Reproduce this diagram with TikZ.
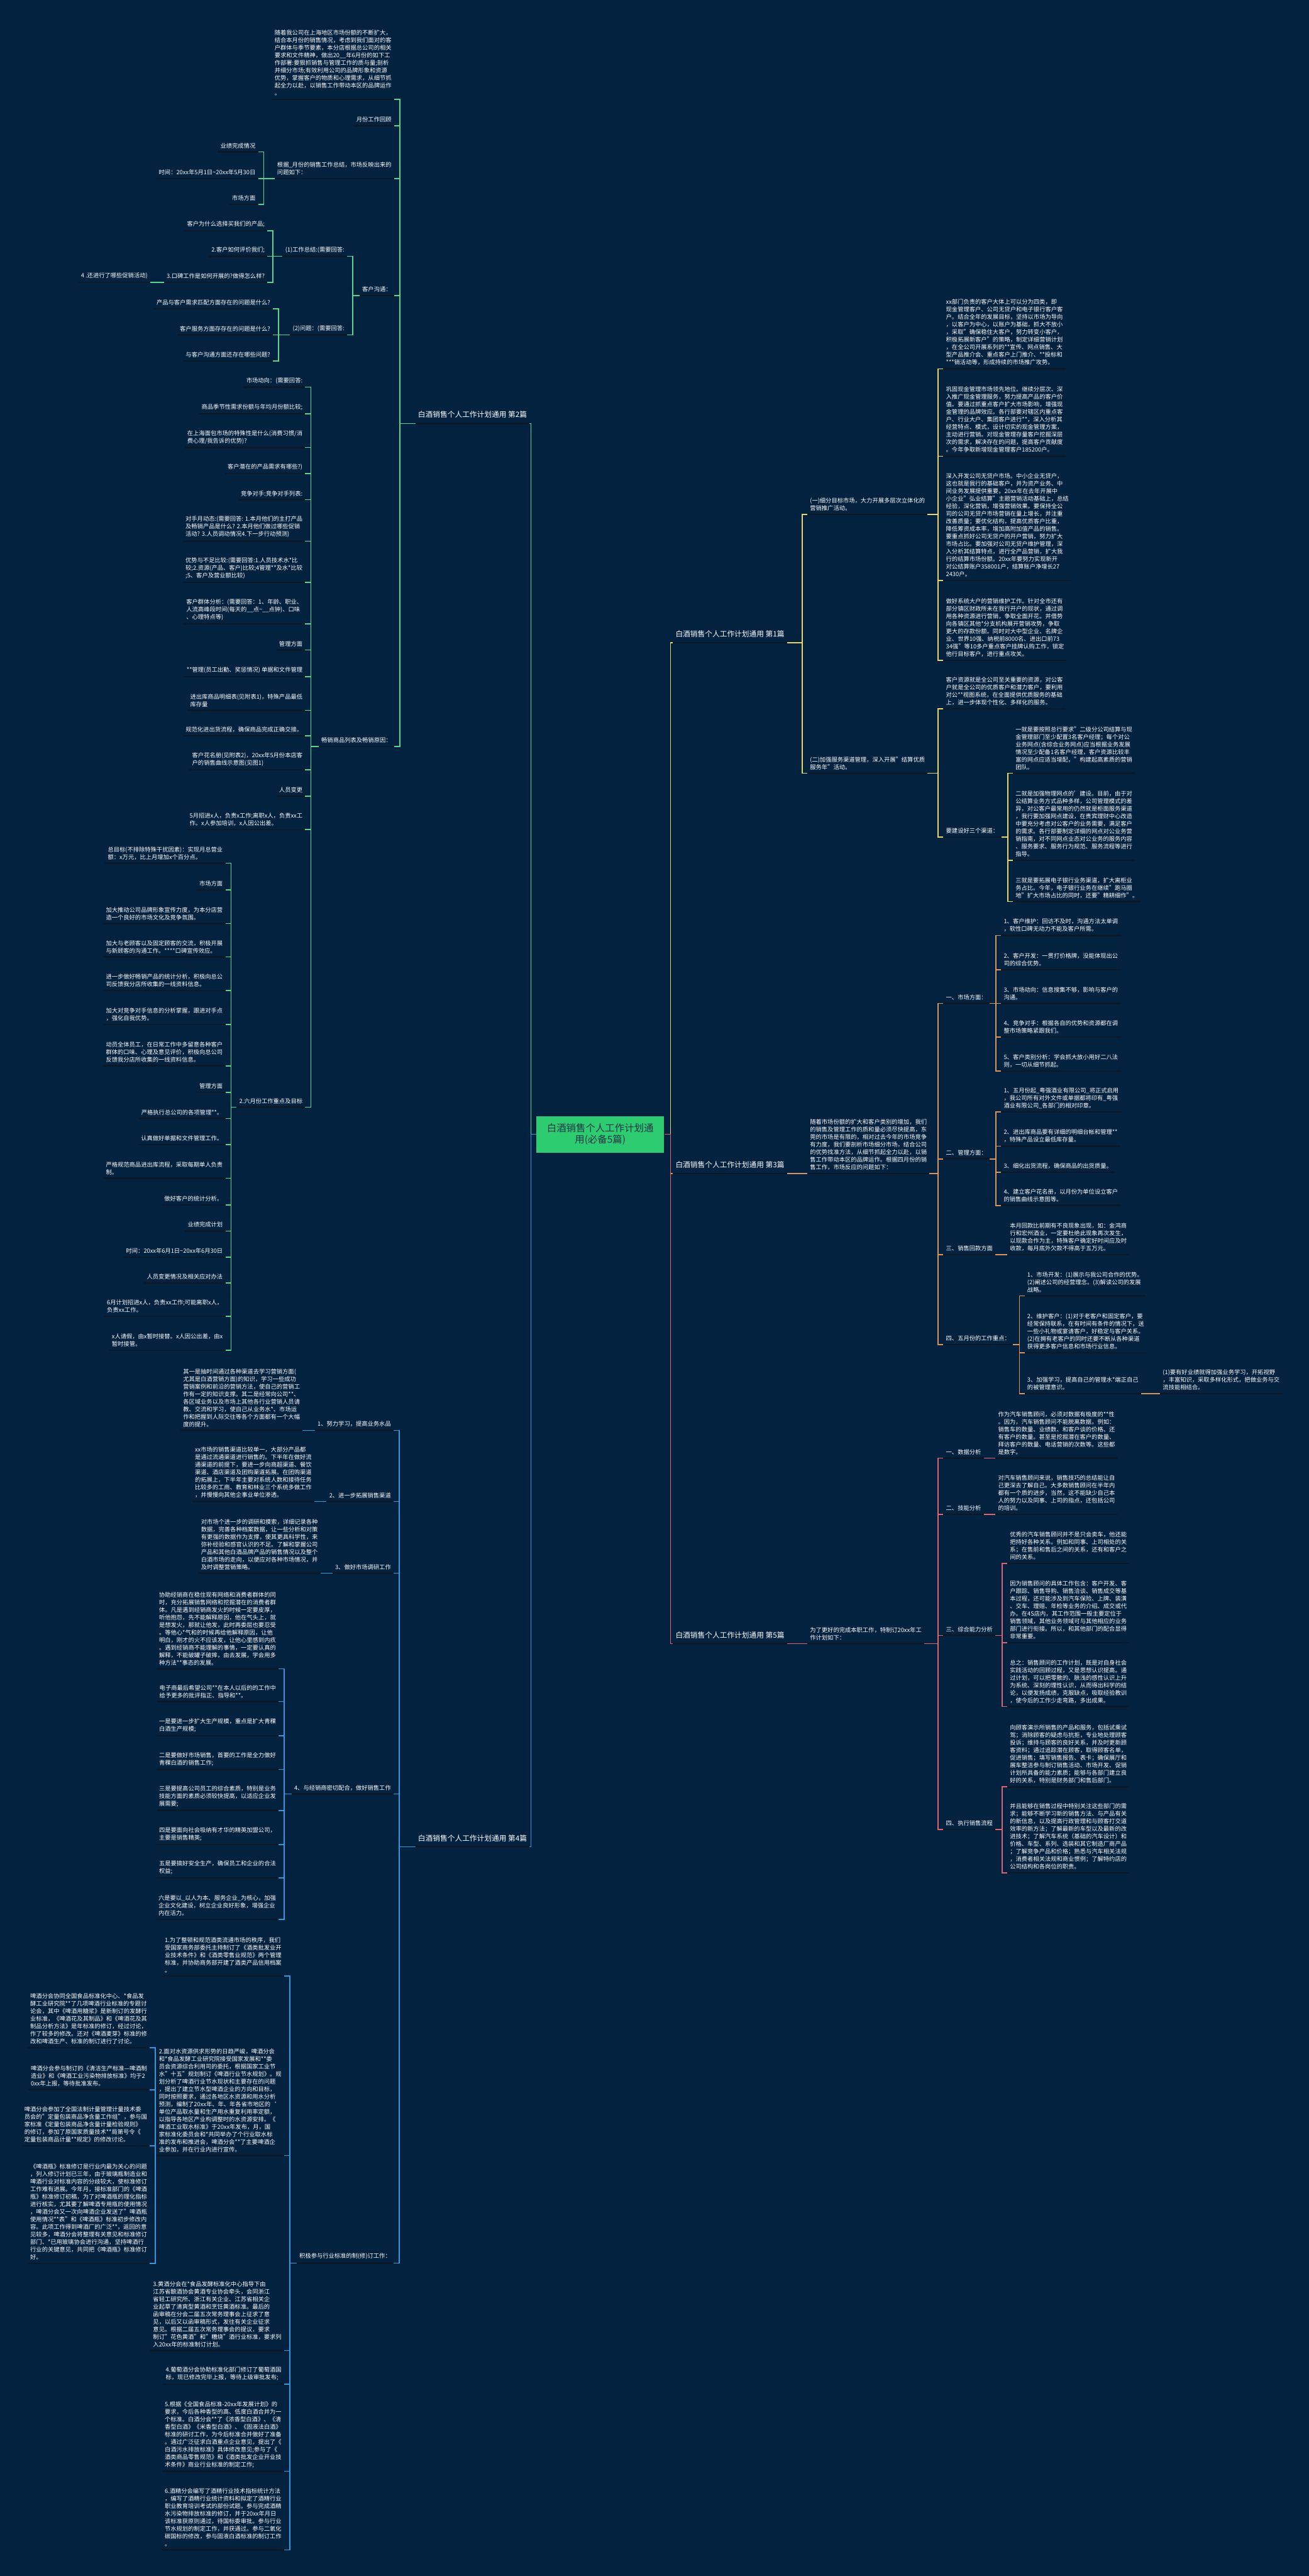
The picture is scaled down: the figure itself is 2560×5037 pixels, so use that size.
\documentclass[tikz,border=0pt]{standalone}
\usepackage{fontspec}
\setmainfont{Noto Sans CJK SC}
\definecolor{bgnavy}{HTML}{03223F}
\definecolor{lineblack}{HTML}{0B1828}
\definecolor{rootgreen}{HTML}{2ECC71}
\definecolor{roottext}{HTML}{1D3447}
\definecolor{branchgreen}{HTML}{58D68D}
\definecolor{branchblue}{HTML}{3498DB}
\definecolor{branchyellow}{HTML}{E9D66B}
\definecolor{branchorange}{HTML}{D9955B}
\definecolor{branchred}{HTML}{E2646E}
\tikzset{
  note/.style={text=white, font=\fontsize{6.5}{8.4}\selectfont, align=left, inner xsep=0.1cm, inner ysep=0.13cm,
    append after command={(\tikzlastnode.south west) edge[draw=lineblack, line width=0.06cm] (\tikzlastnode.south east)}},
  lnote/.style={note, anchor=south east},
  rnote/.style={note, anchor=south west},
  topic/.style={note, font=\fontsize{8.2}{10}\selectfont, inner ysep=0.2cm},
  root/.style={fill=rootgreen, text=roottext, font=\fontsize{10.8}{12.5}\selectfont, align=center, minimum width=5cm, minimum height=1.42cm, inner sep=0pt},
  gline/.style={draw=branchgreen, line width=0.04cm},
  bline/.style={draw=branchblue, line width=0.04cm},
  yline/.style={draw=branchyellow, line width=0.04cm},
  oline/.style={draw=branchorange, line width=0.04cm},
  rline/.style={draw=branchred, line width=0.04cm}
}
\begin{document}
\begin{tikzpicture}[x=0.02cm, y=-0.02cm]
  \fill[bgnavy] (0,0) rectangle (2560,5037);

  % centre and the five parts
  \node[root] (root) at (1174,2218) {白酒销售个人工作计划通\\用(必备5篇)};
  \node[topic, anchor=south east] (p2) at (1036,828) {白酒销售个人工作计划通用 第2篇};
  \node[topic, anchor=south east] (p4) at (1036,3611) {白酒销售个人工作计划通用 第4篇};
  \node[topic, anchor=south west] (p1) at (1316,1257) {白酒销售个人工作计划通用 第1篇};
  \node[topic, anchor=south west] (p3) at (1316,2295) {白酒销售个人工作计划通用 第3篇};
  \node[topic, anchor=south west] (p5) at (1316,3214) {白酒销售个人工作计划通用 第5篇};

  % part 2
  \node[lnote] (a1) at (771,194) {随着我公司在上海地区市场份额的不断扩大，\\结合本月份的销售情况，考虑到我们面对的客\\户群体与季节要素，本分店根据总公司的相关\\要求和文件精神，做出20\_\_年6月份的如下工\\作部署:要狠抓销售与管理工作的质与量;剖析\\并细分市场;有效利用公司的品牌形象和资源\\优势，掌握客户的物质和心理需求，从细节抓\\起全力以赴，以销售工作带动本区的品牌运作\\。};
  \node[lnote] (a2) at (771,246) {月份工作回顾};
  \node[lnote] (a3) at (771,349) {根据\_月份的销售工作总结，市场反映出来的\\问题如下：};
  \node[lnote] (a31) at (505,297) {业绩完成情况};
  \node[lnote] (a32) at (505,349) {时间：20xx年5月1日\textasciitilde 20xx年5月30日};
  \node[lnote] (a33) at (505,400) {市场方面};
  \node[lnote] (a4) at (771,578) {客户沟通：};
  \node[lnote] (a41) at (679,501) {(1)工作总结:(需要回答:};
  \node[lnote] (a411) at (523,451) {客户为什么选择买我们的产品;};
  \node[lnote] (a412) at (523,501) {2.客户如何评价我们;};
  \node[lnote] (a413) at (523,552) {3.口碑工作是如何开展的?做得怎么样?};
  \node[lnote] (a414) at (294,552) {4 .还进行了哪些促销活动)};
  \node[lnote] (a42) at (679,655) {(2)问题：(需要回答:};
  \node[lnote] (a421) at (534,604) {产品与客户需求匹配方面存在的问题是什么?};
  \node[lnote] (a422) at (534,655) {客户服务方面存存在的问题是什么?};
  \node[lnote] (a423) at (534,706) {与客户沟通方面还存在哪些问题?};
  \node[lnote] (a5) at (771,1460) {畅销商品列表及畅销原因：};
  \node[lnote] (s1) at (597,757) {市场动向：(需要回答:};
  \node[lnote] (s2) at (597,809) {商品季节性需求份额与年均月份额比较;};
  \node[lnote] (s3) at (597,875) {在上海面包市场的特殊性是什么(消费习惯/消\\费心理/我告诉的优势)?};
  \node[lnote] (s4) at (597,926) {客户潜在的产品需求有哪些?)};
  \node[lnote] (s5) at (597,977) {竞争对手:竞争对手列表:};
  \node[lnote] (s6) at (597,1058) {对手月动态:(需要回答: 1.本月他们的主打产品\\及畅销产品是什么? 2.本月他们做过哪些促销\\活动? 3.人员调动情况4.下一步行动预测)};
  \node[lnote] (s7) at (597,1139) {优势与不足比较:(需要回答:1.人员技术水*比\\较;2.资源(产品、客户)比较;4管理**及水*比较\\;5、客户及营业额比较)};
  \node[lnote] (s8) at (597,1220) {客户群体分析：(需要回答：1、年龄、职业、\\人流高峰段时间(每天的\_\_点\textasciitilde\_\_点钟)、口味\\、心理特点等)};
  \node[lnote] (s9) at (597,1271) {管理方面};
  \node[lnote] (s10) at (597,1323) {**管理(员工出勤、奖惩情况) 单据和文件管理};
  \node[lnote] (s11) at (597,1389) {进出库商品明细表(见附表1)，特殊产品最低\\库存量};
  \node[lnote] (s12) at (597,1439) {规范化进出货流程，确保商品完成正确交接。};
  \node[lnote] (s13) at (597,1505) {客户花名册(见附表2)，20xx年5月份本店客\\户的销售曲线示意图(见图1)};
  \node[lnote] (s14) at (597,1557) {人员变更};
  \node[lnote] (s15) at (597,1622) {5月招进x人，负责x工作;离职x人，负责xx工\\作。x人参加培训，x人因公出差。};
  \node[lnote] (s16) at (597,2165) {2.六月份工作重点及目标};
  \node[lnote] (j1) at (441,1688) {总目标(不排除特殊干扰因素)：实现月总营业\\额：x万元，比上月增加x个百分点。};
  \node[lnote] (j2) at (441,1740) {市场方面};
  \node[lnote] (j3) at (441,1806) {加大推动公司品牌形象宣传力度，为本分店营\\造一个良好的市场文化及竞争氛围。};
  \node[lnote] (j4) at (441,1871) {加大与老顾客以及固定顾客的交流，积极开展\\与新顾客的沟通工作。****口碑宣传效应。};
  \node[lnote] (j5) at (441,1937) {进一步做好畅销产品的统计分析，积极向总公\\司反馈我分店所收集的一线资料信息。};
  \node[lnote] (j6) at (441,2003) {加大对竞争对手信息的分析掌握，跟进对手点\\，强化自我优势。};
  \node[lnote] (j7) at (441,2084) {动员全体员工，在日常工作中多留意各种客户\\群体的口味、心理及意见评价，积极向总公司\\反馈我分店所收集的一线资料信息。};
  \node[lnote] (j8) at (441,2136) {管理方面};
  \node[lnote] (j9) at (441,2187) {严格执行总公司的各项管理**。};
  \node[lnote] (j10) at (441,2238) {认真做好单据和文件管理工作。};
  \node[lnote] (j11) at (441,2304) {严格规范商品进出库流程，采取每期单人负责\\制。};
  \node[lnote] (j12) at (441,2356) {做好客户的统计分析。};
  \node[lnote] (j13) at (441,2407) {业绩完成计划};
  \node[lnote] (j14) at (441,2458) {时间：20xx年6月1日\textasciitilde 20xx年6月30日};
  \node[lnote] (j15) at (441,2509) {人员变更情况及相关应对办法};
  \node[lnote] (j16) at (441,2574) {6月计划招进x人，负责xx工作;可能离职x人，\\负责xx工作。};
  \node[lnote] (j17) at (441,2640) {x人请假，由x暂时接替。x人因公出差，由x\\暂时接管。};

  % part 4
  \node[lnote] (b1) at (770,2797) {1、努力学习，提高业务水品};
  \node[lnote] (b1x) at (592,2797) {其一是抽时间通过各种渠道去学习营销方面(\\尤其是白酒营销方面)的知识，学习一些成功\\营销案例和前沿的营销方法，使自己的营销工\\作有一定的知识支撑。其二是经常向公司**、\\各区域业务以及市场上其他各行业营销人员请\\教、交流和学习，使自己从业务水*、市场运\\作和把握到人际交往等各个方面都有一个大幅\\度的提升。};
  \node[lnote] (b2) at (770,2936) {2、进一步拓展销售渠道};
  \node[lnote] (b2x) at (615,2936) {xx市场的销售渠道比较单一，大部分产品都\\是通过流通渠道进行销售的。下半年在做好流\\通渠道的前提下，要进一步向商超渠道、餐饮\\渠道、酒店渠道及团购渠道拓展。在团购渠道\\的拓展上，下半年主要对系统人数和接待任务\\比较多的工商、教育和林业三个系统多做工作\\，并慢慢向其他企事业单位渗透。};
  \node[lnote] (b3) at (770,3076) {3、做好市场调研工作};
  \node[lnote] (b3x) at (627,3076) {对市场个进一步的调研和摸索，详细记录各种\\数据，完善各种档案数据，让一些分析和对策\\有更强的数据作为支撑，使其更具科学性，来\\弥补经验和感官认识的不足。了解和掌握公司\\产品和其他白酒品牌产品的销售情况以及整个\\白酒市场的走向，以便应对各种市场情况，并\\及时调整营销策略。};
  \node[lnote] (b4) at (770,3508) {4、与经销商密切配合，做好销售工作};
  \node[lnote] (h1) at (545,3263) {协助经销商在稳住现有网络和消费者群体的同\\时，充分拓展销售网络和挖掘潜在的消费者群\\体。凡是遇到经销商发火的时候一定要皮厚，\\听他抱怨，先不能解释原因，他在气头上，就\\是想发火，那就让他发，此时再委屈也要忍受\\。等他心*气和的时候再给他解释原因，让他\\明白，刚才的火不应该发，让他心里感到内疚\\。遇到经销商不能理解的事情，一定要认真的\\解释，不能破罐子破摔，由去发展，学会用多\\种方法**事态的发展。};
  \node[lnote] (h2) at (545,3327) {电子商最后希望公司**在本人以后的的工作中\\给予更多的批评指正、指导和**。};
  \node[lnote] (h3) at (545,3394) {一是要进一步扩大生产规模，重点是扩大青稞\\白酒生产规模;};
  \node[lnote] (h4) at (545,3460) {二是要做好市场销售，首要的工作是全力做好\\青稞白酒的销售工作;};
  \node[lnote] (h5) at (545,3540) {三是要提高公司员工的综合素质，特别是业务\\技能方面的素质必须较快提高，以适应企业发\\展需要;};
  \node[lnote] (h6) at (545,3607) {四是要面向社会吸纳有才华的精英加盟公司，\\主要是销售精英;};
  \node[lnote] (h7) at (545,3672) {五是要搞好安全生产，确保员工和企业的合法\\权益;};
  \node[lnote] (h8) at (545,3753) {六是要以\_以人为本、服务企业\_为核心，加强\\企业文化建设，树立企业良好形象，增强企业\\内在活力。};
  \node[lnote] (b5) at (770,4425) {积极参与行业标准的制(修)订工作：};
  \node[lnote] (t1) at (556,3864) {1.为了整顿和规范酒类流通市场的秩序，我们\\受国家商务部委托主持制订了《酒类批发业开\\业技术条件》和《酒类零售业规范》两个管理\\标准，并协助商务部开建了酒类产品信用档案\\。};
  \node[lnote] (t2) at (556,4215) {2.面对水资源供求形势的日趋严峻，啤酒分会\\和*食品发酵工业研究院接受国家发展和**委\\员会资源综合利用司的委托，根据国家工业节\\水"十五"规划制订《啤酒行业节水规划》。规\\划分析了啤酒行业节水现状和主要存在的问题\\，提出了建立节水型啤酒企业的方向和目标，\\同时按照要求，通过各地区水资源和用水分析\\预测，编制了20xx年、年、年各省市地区的`\\单位产品取水量和生产用水重复利用率定额，\\以指导各地区产业构调整时的水资源安排。《\\啤酒工业取水标准》于20xx年发布，月，国\\家标准化委员会和*共同举办了个行业取水标\\准的发布和推进会，啤酒分会**了主要啤酒企\\业参加，并在行业内进行宣传。};
  \node[lnote] (w1) at (293,4004) {啤酒分会协同全国食品标准化中心、*食品发\\酵工业研究院**了几项啤酒行业标准的专题讨\\论会，其中《啤酒用糖浆》是新制订的发酵行\\业标准，《啤酒花及其制品》和《啤酒花及其\\制品分析方法》是年标准的修订，经过讨论，\\作了较多的修改。还对《啤酒麦芽》标准的修\\改和啤酒生产、标准的制订进行了讨论。};
  \node[lnote] (w2) at (293,4086) {啤酒分会参与制订的《清洁生产标准—啤酒制\\造业》和《啤酒工业污染物排放标准》均于2\\0xx年上报，等待批准发布。};
  \node[lnote] (w3) at (293,4196) {啤酒分会参加了全国法制计量管理计量技术委\\员会的"定量包装商品净含量工作组"，参与国\\家标准《定量包装商品净含量计量检验规则》\\的修订，参加了原国家质量技术**局第号令《\\定量包装商品计量**规定》的修改讨论。};
  \node[lnote] (w4) at (293,4426) {《啤酒瓶》标准修订是行业内最为关心的问题\\，列入修订计划已三年，由于玻璃瓶制造业和\\啤酒行业对标准内容的分歧较大，使标准修订\\工作难有进展。今年月，接标准部门的《啤酒\\瓶》标准修订初稿，为了对啤酒瓶的理化指标\\进行核实，尤其要了解啤酒专用瓶的使用情况\\，啤酒分会又一次向啤酒企业发送了"啤酒瓶\\使用情况**表"和《啤酒瓶》标准初步修改内\\容。此项工作得到啤酒厂的广泛**，返回的意\\见较多，啤酒分会将整理有关意见和标准修订\\部门、*已用玻璃协会进行沟通，坚持啤酒行\\行业的关键意见，共同把《啤酒瓶》标准修订\\好。};
  \node[lnote] (t3) at (556,4596) {3.黄酒分会在*食品发酵标准化中心指导下由\\江苏省酿酒协会黄酒专业协会牵头，会同浙江\\省轻工研究所、浙江有关企业、江苏省相关企\\业起草了清爽型黄酒和烹饪黄酒标准。最后的\\函审稿在分会二届五次常务理事会上征求了意\\见，以后又以函审稿形式，发往有关企业征求\\意见。根据二届五次常务理事会的提议，要求\\制订"花色黄酒"和"糟烧"酒行业标准，要求列\\入20xx年的标准制订计划。};
  \node[lnote] (t4) at (556,4662) {4.葡萄酒分会协助标准化部门修订了葡萄酒国\\标，现已修改完毕上报，等待上级审批发布;};
  \node[lnote] (t5) at (556,4832) {5.根据《全国食品标准-20xx年发展计划》的\\要求，今后各种香型的高、低度白酒合并为一\\个标准。白酒分会**了《浓香型白酒》、《清\\香型白酒》《米香型白酒》、《固液法白酒》\\标准的研讨工作，为今后标准合并做好了准备\\。通过广泛征求白酒重点企业意见，提出了《\\白酒污水排放标准》具体修改意见;参与了《\\酒类商品零售规范》和《酒类批发企业开业技\\术条件》商业行业标准的制定工作;};
  \node[lnote] (t6) at (556,4986) {6.酒精分会编写了酒精行业技术指标统计方法\\，编写了酒精行业统计资料和拟定了酒精行业\\职业教育培训考试的部份试题。参与完成酒精\\水污染物排放标准的修订，并于20xx年月日\\该标准获原则通过，待国标委审批。参与行业\\节水规划的制定工作，并获通过。参与二氧化\\碳国标的修改，参与固液白酒标准的制订工作\\。};

  % part 1
  \node[rnote] (c1) at (1579,1006) {(一)细分目标市场，大力开展多层次立体化的\\营销推广活动。};
  \node[rnote] (x1) at (1845,721) {xx部门负责的客户大体上可以分为四类，即\\现金管理客户、公司无贷户和电子银行客户客\\户。结合全年的发展目标，坚持以市场为导向\\，以客户为中心，以账户为基础，抓大不放小\\，采取"确保稳住大客户，努力转变小客户，\\积极拓展新客户"的策略，制定详细营销计划\\，在全公司开展系列的**宣传、网点销售、大\\型产品推介会、重点客户上门推介、**投标和\\***销活动等，形成持续的市场推广攻势。};
  \node[rnote] (x2) at (1845,892) {巩固现金管理市场领先地位。继续分层次、深\\入推广现金管理服务，努力提高产品的客户价\\值。要通过抓重点客户扩大市场影响，增强现\\金管理的品牌效应。各行部要对辖区内重点客\\户、行业大户、集团客户进行**，深入分析其\\经营特点、模式，设计切实的现金管理方案，\\主动进行营销。对现金管理存量客户挖掘深层\\次的需求，解决存在的问题，提高客户贡献度\\。今年争取新增现金管理客户185200户。};
  \node[rnote] (x3) at (1845,1135) {深入开发公司无贷户市场。中小企业无贷户，\\这也就是我行的基础客户，并为资产业务、中\\间业务发展提供重要。20xx年在去年开展中\\小企业"弘业结算"主题营销活动基础上，总结\\经验，深化营销，增强营销效果。要保持全公\\司的公司无贷户市场营销在量上增长，并注重\\改善质量；要优化结构，提高优质客户比重，\\降低筹资成本率，增加高附加值产品的销售。\\要重点抓好公司无贷户的开户营销，努力扩大\\市场占比。要加强对公司无贷户维护管理，深\\入分析其结算特点，进行全产品营销，扩大我\\行的结算市场份额。20xx年要努力实现新开\\对公结算账户358001户，结算账户净增长27\\2430户。};
  \node[rnote] (x4) at (1845,1291) {做好系统大户的营销维护工作。针对全市还有\\部分镇区财政所未在我行开户的现状，通过调\\用各种资源进行营销，争取全面开花。并借势\\向各镇区其他*分支机构展开营销攻势，争取\\更大的存款份额。同时对大中型企业、名牌企\\业、世界10强、纳税前8000名、进出口前73\\34强"等10多户重点客户挂牌认购工作，锁定\\他行目标客户，进行重点攻关。};
  \node[rnote] (c2) at (1579,1512) {(二)加强服务渠道管理，深入开展"结算优质\\服务年"活动。};
  \node[rnote] (c21) at (1845,1386) {客户资源就是全公司至关重要的资源，对公客\\户就是全公司的优质客户和潜力客户，要利用\\对公**视图系统，在全面提供优质服务的基础\\上，进一步体现个性化、多样化的服务。};
  \node[rnote] (c22) at (1845,1637) {要建设好三个渠道：};
  \node[rnote] (q1) at (1981,1512) {一就是要按照总行要求"二级分公司结算与现\\金管理部门至少配置3名客户经理；每个对公\\业务网点(含综合业务网点)应当根据业务发展\\情况至少配备1名客户经理，客户资源比较丰\\富的网点应适当增配，"构建起高素质的营销\\团队。};
  \node[rnote] (q2) at (1981,1682) {二就是加强物理网点的'建设。目前，由于对\\公结算业务方式品种多样，公司管理模式的差\\异，对公客户最常用的仍然就是柜面服务渠道\\，我行要加强网点建设，在贵宾理财中心改造\\中要充分考虑对公客户的业务需要，满足客户\\的需求。各行部要制定详细的网点对公业务营\\销指南，对不同网点业态对公业务的服务内容\\、服务要求、服务行为规范、服务流程等进行\\指导。};
  \node[rnote] (q3) at (1981,1763) {三就是要拓展电子银行业务渠道，扩大离柜业\\务占比。今年，电子银行业务在继续"跑马圈\\地"扩大市场占比的同时，还要"精耕细作"。};

  % part 3
  \node[rnote] (d0) at (1579,2295) {随着市场份额的扩大和客户类别的增加，我们\\的销售及管理工作的质和量必须尽快提高，东\\莞的市场是有限的，相对过去今年的市场竞争\\有力度，我们要剖析市场细分市场，结合公司\\的优势找准方法，从细节抓起全力以赴，以销\\售工作带动本区的品牌运作。根据四月份的销\\售工作，市场反应的问题如下：};
  \node[rnote] (d1) at (1845,1962) {一、市场方面：};
  \node[rnote] (u1) at (1958,1829) {1、客户维护：回访不及时，沟通方法太单调\\，软性口碑无动力不能及客户所需。};
  \node[rnote] (u2) at (1958,1896) {2、客户开发：一贯打价格牌，没能体现出公\\司的综合优势。};
  \node[rnote] (u3) at (1958,1962) {3、市场动向：信息搜集不够，影响与客户的\\沟通。};
  \node[rnote] (u4) at (1958,2028) {4、竞争对手：根据各自的优势和资源都在调\\整市场策略紧跟我们。};
  \node[rnote] (u5) at (1958,2094) {5、客户类别分析：学会抓大放小用好二八法\\则，一切从细节抓起。};
  \node[rnote] (d2) at (1845,2266) {二、管理方面：};
  \node[rnote] (v1) at (1958,2174) {1、五月份起\_粤强酒业有限公司\_将正式启用\\，我公司所有对外文件或单据都将印有\_粤强\\酒业有限公司\_各部门的相对印章。};
  \node[rnote] (v2) at (1958,2241) {2、进出库商品要有详细的明细台帐和管理**\\，特殊产品设立最低库存量。};
  \node[rnote] (v3) at (1958,2292) {3、细化出货流程，确保商品的出货质量。};
  \node[rnote] (v4) at (1958,2357) {4、建立客户花名册，以月份为单位设立客户\\的销售曲线示意图等。};
  \node[rnote] (d3) at (1845,2453) {三、销售回款方面};
  \node[rnote] (d31) at (1970,2453) {本月回款比前期有不良现象出现，如：金鸿商\\行和宏州酒业，一定要杜绝此现象再次发生，\\以现款合作为主，特殊客户确定好时间应及时\\收款，每月底外欠款不得高于五万元。};
  \node[rnote] (d4) at (1845,2629) {四、五月份的工作重点：};
  \node[rnote] (k1) at (2004,2534) {1、市场开发：(1)展示与我公司合作的优势。\\(2)阐述公司的经营理念。(3)解读公司的发展\\战略。};
  \node[rnote] (k2) at (2004,2645) {2、维护客户：(1)对于老客户和固定客户，要\\经常保持联系，在有时间有条件的情况下，送\\一些小礼物或宴请客户，好稳定与客户关系。\\(2)在拥有老客户的同时还要不断从各种渠道\\获得更多客户信息和市场行业信息。};
  \node[rnote] (k3) at (2004,2725) {3、加强学习，提高自己的管理水*端正自己\\的被管理意识。};
  \node[rnote] (k31) at (2269,2725) {(1)要有好业绩就得加强业务学习，开拓视野\\，丰富知识，采取多样化形式，把做业务与交\\流技能相结合。};

  % part 5
  \node[rnote] (e0) at (1579,3214) {为了更好的完成本职工作，特制订20xx年工\\作计划如下：};
  \node[rnote] (e1) at (1845,2851) {一、数据分析};
  \node[rnote] (e1x) at (1947,2851) {作为汽车销售顾问，必须对数据有极度的**性\\。因为，汽车销售顾问不能脱离数据，例如：\\销售车的数量、业绩数、和客户谈的价格、还\\有客户的数量。甚至是挖掘潜在客户的数量、\\拜访客户的数量、电话营销的次数等。这些都\\是数字。};
  \node[rnote] (e2) at (1845,2961) {二、技能分析};
  \node[rnote] (e2x) at (1947,2961) {对汽车销售顾问来说，销售技巧的总结能让自\\己更深去了解自己。大多数销售顾问在半年内\\都有一个质的进步，当然，这不能缺少自己本\\人的努力以及同事、上司的指点，还包括公司\\的培训。};
  \node[rnote] (e3) at (1845,3198) {三、综合能力分析};
  \node[rnote] (r1) at (1970,3057) {优秀的汽车销售顾问并不是只会卖车，他还能\\把持好各种关系。例如和同事、上司相处的关\\系；在售前和售后之间的关系，还有和客户之\\间的关系。};
  \node[rnote] (r2) at (1970,3212) {因为销售顾问的具体工作包含：客户开发、客\\户跟踪、销售导购、销售洽谈、销售成交等基\\本过程，还可能涉及到汽车保险、上牌、装潢\\、交车、理赔、年检等业务的介绍、成交或代\\办。在4S店内，其工作范围一般主要定位于\\销售领域，其他业务领域可与其他相应的业务\\部门进行衔接。所以，和其他部门的配合显得\\非常重要。};
  \node[rnote] (r3) at (1970,3337) {总之：销售顾问的工作计划，既是对自身社会\\实践活动的回顾过程，又是思想认识提高。通\\过计划，可以把零散的、肤浅的感性认识上升\\为系统、深刻的理性认识，从而得出科学的结\\论，以便发扬成绩，克服缺点，吸取经验教训\\，使今后的工作少走弯路，多出成果。};
  \node[rnote] (e4) at (1845,3577) {四、执行销售流程};
  \node[rnote] (r4) at (1970,3494) {向顾客演示所销售的产品和服务，包括试乘试\\驾；消除顾客的疑虑与抗拒，专业地处理顾客\\投诉；维持与顾客的良好关系，并及时更新顾\\客资料；通过追踪潜在顾客，取得顾客名单，\\促进销售；填写销售报告、表卡；确保展厅和\\展车整洁参与制订销售活动、市场开发、促销\\计划所具备的能力素质；能够与各部门建立良\\好的关系，特别是财务部门和售后部门。};
  \node[rnote] (r5) at (1970,3662) {并且能够在销售过程中特别关注这些部门的需\\求；能够不断学习新的销售方法、与产品有关\\的新信息，以及提高行政管理和与顾客打交道\\效率的新方法；了解最新的车型以及最新的改\\进技术；了解汽车系统（基础的汽车设计）和\\价格、车型、系列、选装和其它制造厂商产品\\；了解竞争产品和价格；熟悉与汽车相关法规\\，消费者相关法规和商业惯例；了解特约店的\\公司结构和各岗位的职责。};

  % connectors, left side
  \draw[gline] (root.west) -- ++(-10,0) |- (p2.south east);
  \draw[bline] (root.west) -- ++(-10,0) |- (p4.south east);
  \foreach \from/\to in {p2/a1, p2/a2, p2/a3, p2/a4, p2/a5, a3/a31, a3/a32, a3/a33, a4/a41, a4/a42,
      a41/a411, a41/a412, a41/a413, a413/a414, a42/a421, a42/a422, a42/a423}
    \draw[gline] (\to.south east) -- ++(11,0) |- (\from.south west);
  \foreach \i in {1,...,16}
    \draw[gline] (s\i.south east) -- ++(11,0) |- (a5.south west);
  \foreach \i in {1,...,17}
    \draw[gline] (j\i.south east) -- ++(11,0) |- (s16.south west);
  \foreach \from/\to in {p4/b1, p4/b2, p4/b3, p4/b4, p4/b5, b1/b1x, b2/b2x, b3/b3x}
    \draw[bline] (\to.south east) -- ++(11,0) |- (\from.south west);
  \foreach \i in {1,...,8}
    \draw[bline] (h\i.south east) -- ++(11,0) |- (b4.south west);
  \foreach \i in {1,...,6}
    \draw[bline] (t\i.south east) -- ++(11,0) |- (b5.south west);
  \foreach \i in {1,...,4}
    \draw[bline] (w\i.south east) -- ++(11,0) |- (t2.south west);

  % connectors, right side
  \draw[yline] (root.east) -- ++(12,0) |- (p1.south west);
  \draw[oline] (root.east) -- ++(12,0) |- (p3.south west);
  \draw[rline] (root.east) -- ++(12,0) |- (p5.south west);
  \foreach \from/\to in {p1/c1, p1/c2, c2/c21, c2/c22}
    \draw[yline] (\to.south west) -- ++(-10,0) |- (\from.south east);
  \foreach \i in {1,...,4}
    \draw[yline] (x\i.south west) -- ++(-10,0) |- (c1.south east);
  \foreach \i in {1,2,3}
    \draw[yline] (q\i.south west) -- ++(-10,0) |- (c22.south east);
  \foreach \from/\to in {p3/d0, d0/d1, d0/d2, d0/d3, d0/d4, d3/d31, k3/k31}
    \draw[oline] (\to.south west) -- ++(-10,0) |- (\from.south east);
  \foreach \i in {1,...,5}
    \draw[oline] (u\i.south west) -- ++(-10,0) |- (d1.south east);
  \foreach \i in {1,...,4}
    \draw[oline] (v\i.south west) -- ++(-10,0) |- (d2.south east);
  \foreach \i in {1,2,3}
    \draw[oline] (k\i.south west) -- ++(-10,0) |- (d4.south east);
  \foreach \from/\to in {p5/e0, e0/e1, e0/e2, e0/e3, e0/e4, e1/e1x, e2/e2x, e3/r1, e3/r2, e3/r3, e4/r4, e4/r5}
    \draw[rline] (\to.south west) -- ++(-10,0) |- (\from.south east);
\end{tikzpicture}
\end{document}
